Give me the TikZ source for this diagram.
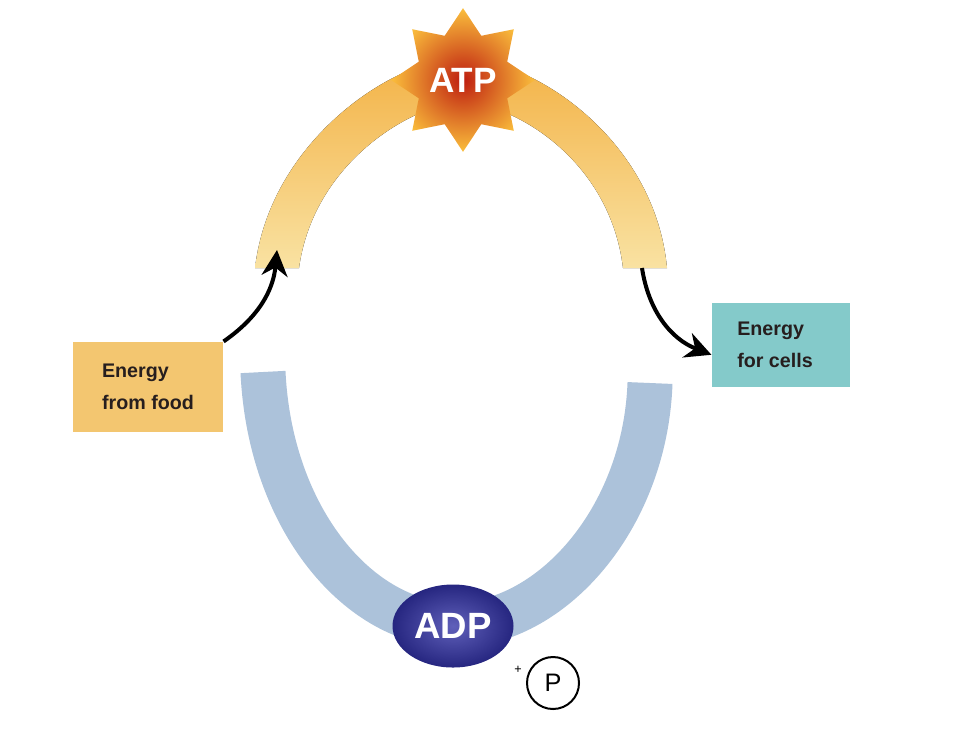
\documentclass[tikz,border=0pt]{standalone}
\usepackage{fontspec}
\setmainfont{Liberation Sans}
\usetikzlibrary{positioning, arrows.meta, shapes.geometric}

\definecolor{atpred}{RGB}{190,30,16}
\definecolor{atpyellow}{RGB}{250,190,60}
\definecolor{bandtop}{RGB}{243,178,70}
\definecolor{bandend}{RGB}{249,226,162}
\definecolor{bandblue}{RGB}{172,194,218}
\definecolor{adpmid}{RGB}{96,96,186}
\definecolor{adpdark}{RGB}{38,38,128}
\definecolor{foodfill}{RGB}{243,198,112}
\definecolor{cellsfill}{RGB}{132,202,202}
\definecolor{labeltext}{RGB}{38,30,30}

\begin{document}
\begin{tikzpicture}[x=0.25mm, y=-0.25mm, >={Stealth[length=6.5mm, width=6.5mm]}, thick,
    band/.style={line width=11.25mm, draw=bandblue},
    box/.style={inner sep=0pt, align=left, text=labeltext,
        font=\bfseries\fontsize{14}{23}\selectfont},
    flow/.style={->, line width=1mm, black}]
    % Layout: ring, ATP on top, ADP at the bottom
    \useasboundingbox (0,0) rectangle (980,735);

    % Orange half (charged)
    \fill[top color=bandtop, bottom color=bandend]
        (255,268) .. controls (270,140) and (395,58) .. (462,58)
        .. controls (535,60) and (655,140) .. (667,268)
        -- (623,268) .. controls (610,160) and (515,104) .. (462,102)
        .. controls (415,104) and (314,160) .. (299,268) -- cycle;

    % Blue half (discharged)
    \coordinate (blueL) at (263,372);
    \coordinate (blueR) at (650,383);
    \coordinate (bottom) at (455,625);
    \draw[band] (blueL) .. controls (270,520) and (360,625) .. (bottom)
        .. controls (550,625) and (645,520) .. (blueR);

    % Molecules
    \node[star, star points=8, star point ratio=1.5, minimum size=33mm, inner sep=0pt,
        shading=radial, inner color=atpred, outer color=atpyellow,
        text=white, font=\bfseries\fontsize{25}{25}\selectfont] (atp) at (463,80) {ATP};
    \node[ellipse, minimum width=30.25mm, minimum height=20.75mm, inner sep=0pt,
        shading=radial, inner color=adpmid, outer color=adpdark,
        text=white, font=\bfseries\fontsize{26}{26}\selectfont] (adp) at (453,626) {ADP};
    \node[circle, draw, line width=0.5mm, minimum size=13mm, inner sep=0pt,
        font=\fontsize{18}{18}\selectfont] (pi) at (553,683) {P};
    \node[inner sep=0pt, font=\fontsize{9}{9}\selectfont] (plus) at (518,670) {+};

    % Energy in and out
    \node[box, fill=foodfill, minimum width=37.5mm, minimum height=22.5mm] (food) at (148,387)
        {Energy\\from food};
    \node[box, fill=cellsfill, minimum width=34.5mm, minimum height=21mm] (cells) at (781,345)
        {Energy\\for cells\hspace*{3mm}};

    \coordinate (inL) at (277,250);
    \coordinate (outR) at (642,268);

    \path[flow]
        (food.north east) edge [bend right=25] (inL)
        (outR) edge [bend right=30] (cells.188);

\end{tikzpicture}
\end{document}
